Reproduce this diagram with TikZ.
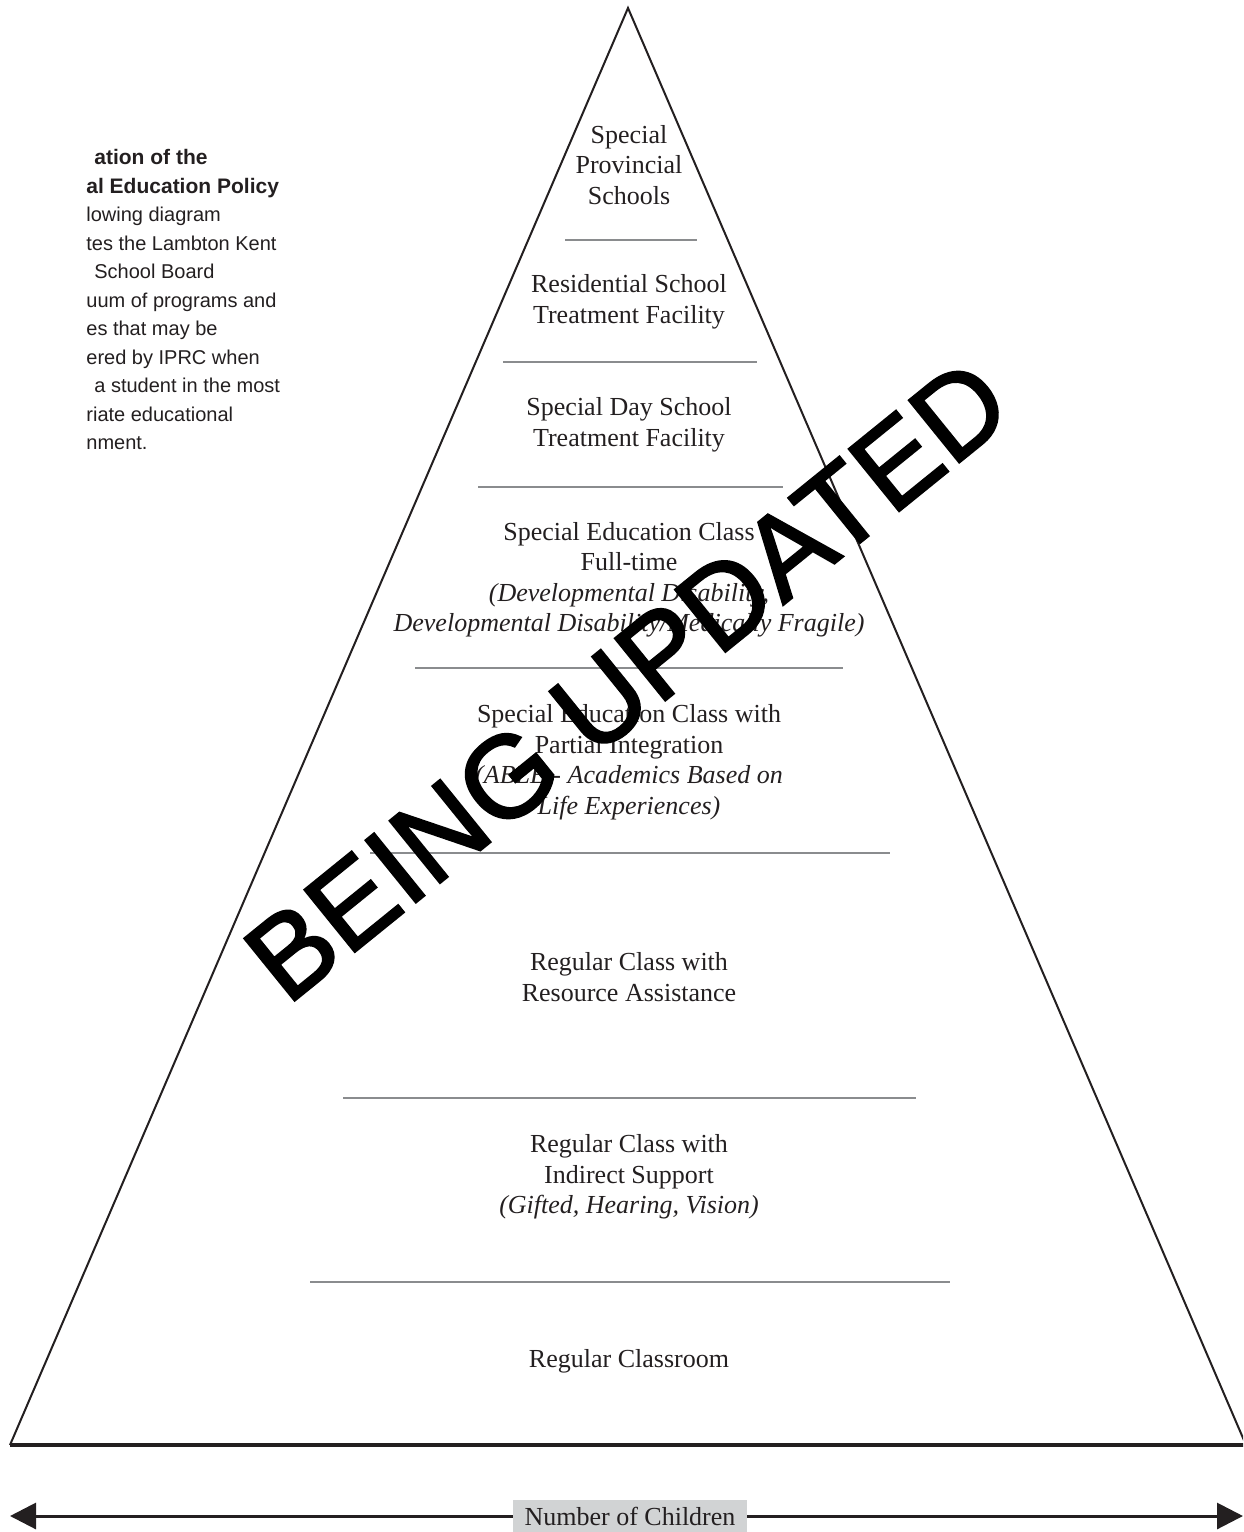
\documentclass[tikz,border=0pt]{standalone}
\usepackage{fontspec}
\setmainfont{Liberation Serif}
\newfontfamily\notefont{Liberation Sans}
\newfontfamily\stampfont[FakeBold=2]{Liberation Sans}
\usetikzlibrary{arrows.meta,positioning}
\definecolor{ink}{HTML}{231F20}
\definecolor{rule}{HTML}{8A8C8E}
\definecolor{tag}{HTML}{D1D3D4}

\begin{document}
\begin{tikzpicture}[x=0.5pt,y=-0.5pt,
    level/.style={align=center,text=ink,inner sep=0pt,font=\fontsize{13}{15.25}\selectfont},
    note/.style={align=left,text=ink,inner sep=0pt,font=\notefont\fontsize{10}{14.25}\selectfont},
    sep/.style={rule,line width=0.8pt},
    edge/.style={ink,line width=1pt},
    span/.style={ink,line width=1.5pt,-{Triangle[length=13pt,width=13pt]}},
    stamp/.style={text=black,inner sep=0pt,rotate=39,font=\stampfont\fontsize{58}{58}\selectfont}]
    \useasboundingbox (0,0) rectangle (1243,1532);
    % note on the left, cut by the page
    \node[note,anchor=north west] (intro) at (86,149) {%
        \hspace{4pt}\textbf{\fontsize{10.5}{14.25}\selectfont ation of the}\\
        \textbf{\fontsize{10.5}{14.25}\selectfont al Education Policy}\\
        lowing diagram\\
        tes the Lambton Kent\\
        \hspace{4pt}School Board\\
        uum of programs and\\
        es that may be\\
        ered by IPRC when\\
        \hspace{4pt}a student in the most\\
        riate educational\\
        nment.};
    % pyramid
    \coordinate (apex) at (628,8);
    \coordinate (bl) at (10,1445);
    \coordinate (br) at (1246,1445);
    \begin{scope}
      \clip (0,0) rectangle (1243,1532);
      \draw[edge] (bl)--(apex)--(br);
      \draw[ink,line width=1.8pt] (bl)--(br);
    \end{scope}
    \foreach \y/\a/\b in {240/565/697,362/503/757,487/478/783,668/415/843,853/370/890,1098/343/916,1282/310/950}
      \draw[sep] (\a,\y)--(\b,\y);
    \node[level] (tier1) at (629,165) {Special\\Provincial\\Schools};
    \node[level] (tier2) at (629,302) {Residential School\\Treatment Facility};
    \node[level] (tier3) at (629,425) {Special Day School\\Treatment Facility};
    \node[level] (tier4) at (629,580) {Special Education Class\\Full-time\\
      \textit{(Developmental Disability,}\\\textit{Developmental Disability/Medically Fragile)}};
    \node[level] (tier5) at (629,762) {Special Education Class with\\Partial Integration\\
      \textit{(ABLE - Academics Based on}\\\textit{Life Experiences)}};
    \node[level] (tier6) at (629,977) {Regular Class with\\Resource Assistance};
    \node[level] (tier7) at (629,1177) {Regular Class with\\Indirect Support\\
      \textit{(Gifted, Hearing, Vision)}};
    \node[level] (tier8) at (629,1361) {Regular Classroom};
    % axis below
    \node[fill=tag,text=ink,inner sep=0pt,minimum width=117pt,minimum height=16pt,
      font=\fontsize{13}{15}\selectfont] (count) at (630,1516) {Number of Children};
    \coordinate (leftend) at (10,1516);
    \coordinate (rightend) at (1243,1516);
    \draw[span] (count.west)--(leftend);
    \draw[span] (count.east)--(rightend);
    % watermark
    \node[stamp] (banner) at (627,680) {BEING UPDATED};
\end{tikzpicture}
\end{document}
